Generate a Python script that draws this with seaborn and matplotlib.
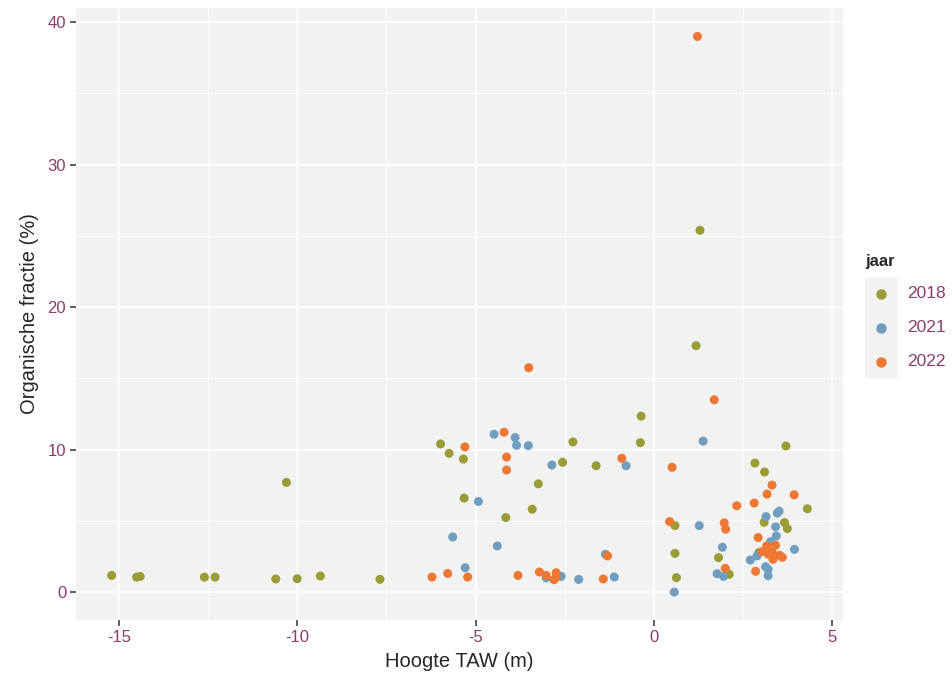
import matplotlib
matplotlib.use("Agg")
import matplotlib.pyplot as plt
from matplotlib.patches import Rectangle
from matplotlib.ticker import MultipleLocator
import seaborn as sns
import numpy as np
import pandas as pd

# values
x_2018 = [-15.2, -14.5, -14.4, -12.6, -12.3, -10.6, -10.3, -10.0, -9.35, -7.68,
          -5.98, -5.74, -5.34, -5.32, -4.15, -3.41, -3.24, -2.56, -2.27, -1.62,
          -0.38, -0.36, 0.59, 0.59, 0.63, 1.18, 1.29, 1.81, 2.11, 2.83,
          3.10, 3.09, 2.94, 3.66, 3.74, 3.70, 4.30]
y_2018 = [1.17, 1.05, 1.1, 1.05, 1.05, 0.92, 7.7, 0.94, 1.13, 0.9,
          10.4, 9.74, 9.34, 6.6, 5.23, 5.82, 7.6, 9.11, 10.54, 8.87,
          10.49, 12.35, 4.67, 2.72, 1.01, 17.3, 25.4, 2.42, 1.25, 9.06,
          8.43, 4.9, 2.77, 4.88, 4.46, 10.26, 5.85]

x_2021 = [-5.64, -5.29, -4.92, -4.48, -4.39, -3.89, -3.85, -3.52, -3.02, -2.86,
          -2.60, -2.11, -1.36, -1.11, -0.78, 0.57, 1.27, 1.38, 1.77, 1.92,
          1.95, 2.70, 2.89, 3.14, 3.13, 3.20, 3.20, 3.27, 3.41, 3.43,
          3.46, 3.51, 3.94]
y_2021 = [3.87, 1.71, 6.36, 11.08, 3.24, 10.85, 10.3, 10.28, 1.0, 8.92,
          1.1, 0.89, 2.65, 1.06, 8.87, 0.0, 4.67, 10.6, 1.29, 3.15,
          1.1, 2.25, 2.54, 5.3, 1.78, 1.6, 1.15, 3.54, 4.58, 3.94,
          5.55, 5.68, 3.0]

x_2022 = [-6.22, -5.78, -5.30, -5.22, -4.20, -4.13, -4.13, -3.81, -3.51, -3.21,
          -3.02, -2.80, -2.74, -2.74, -1.42, -1.30, -0.90, 0.44, 0.51, 1.22,
          1.69, 1.97, 2.01, 2.00, 2.32, 2.81, 2.85, 2.92, 3.03, 3.16,
          3.17, 3.21, 3.31, 3.31, 3.34, 3.41, 3.52, 3.60, 3.93]
y_2022 = [1.06, 1.31, 10.19, 1.06, 11.22, 9.48, 8.57, 1.17, 15.75, 1.41,
          1.17, 0.87, 1.36, 1.05, 0.92, 2.54, 9.39, 4.95, 8.76, 39.0,
          13.5, 4.86, 4.41, 1.67, 6.06, 6.25, 1.46, 3.83, 2.84, 3.24,
          6.88, 2.65, 2.84, 7.51, 2.3, 3.29, 2.58, 2.44, 6.83]

jaren = ["2018", "2021", "2022"]
kleuren = {"2018": "#9a9c37", "2021": "#6f9ec0", "2022": "#ee7733"}

df = pd.concat([
    pd.DataFrame({"hoogte": x_2018, "of": y_2018, "jaar": "2018"}),
    pd.DataFrame({"hoogte": x_2021, "of": y_2021, "jaar": "2021"}),
    pd.DataFrame({"hoogte": x_2022, "of": y_2022, "jaar": "2022"}),
])

tick_col = "#8b3c6b"
panel_col = "#f2f2f2"

sns.set_style("darkgrid", {"axes.facecolor": panel_col, "grid.color": "white"})
plt.rcParams['font.family'] = ['Liberation Sans', 'DejaVu Sans']
plt.rcParams['axes.unicode_minus'] = False

fig = plt.figure(figsize=(9.53, 6.83), dpi=100)
ax = fig.add_axes([0.0797, 0.0922, 0.8049, 0.8961])

sns.scatterplot(data=df, x="hoogte", y="of", hue="jaar", hue_order=jaren,
                palette=kleuren, s=42, linewidth=0, ax=ax, legend=False)

ax.set_xlim(-16.2, 5.3)
ax.set_ylim(-1.96, 41.0)
ax.xaxis.set_major_locator(MultipleLocator(5))
ax.xaxis.set_minor_locator(MultipleLocator(2.5))
ax.yaxis.set_major_locator(MultipleLocator(10))
ax.yaxis.set_minor_locator(MultipleLocator(5))
ax.grid(which="major", color="white", linewidth=1.3)
ax.grid(which="minor", color="white", linewidth=0.65)
for s in ax.spines.values():
    s.set_visible(False)
ax.tick_params(which="major", length=4, width=1.1, color="#333333",
               labelsize=12, labelcolor=tick_col, pad=3, bottom=True, left=True)
ax.tick_params(which="minor", length=0)
ax.set_xlabel("Hoogte TAW (m)", fontsize=14.5, labelpad=5)
ax.set_ylabel("Organische fractie (%)", fontsize=14.5, labelpad=6)

# legend drawn the ggplot way: title, grey key column, labels
fig.text(865 / 953, 1 - 262 / 683, "jaar", fontsize=12, fontweight="bold",
         va="center", ha="left")
fig.patches.append(Rectangle((865 / 953, 1 - 379 / 683), 32 / 953, 102 / 683,
                             transform=fig.transFigure, facecolor=panel_col,
                             edgecolor="none", zorder=0))
for i, j in enumerate(jaren):
    yy = 1 - (294 + 34 * i) / 683
    fig.lines.append(plt.Line2D([881 / 953], [yy], transform=fig.transFigure,
                                marker="o", markersize=6.5, linestyle="none",
                                color=kleuren[j]))
    fig.text(907 / 953, yy, j, fontsize=12.5, color=tick_col, va="center", ha="left")

fig.savefig("out.png", dpi=100)
